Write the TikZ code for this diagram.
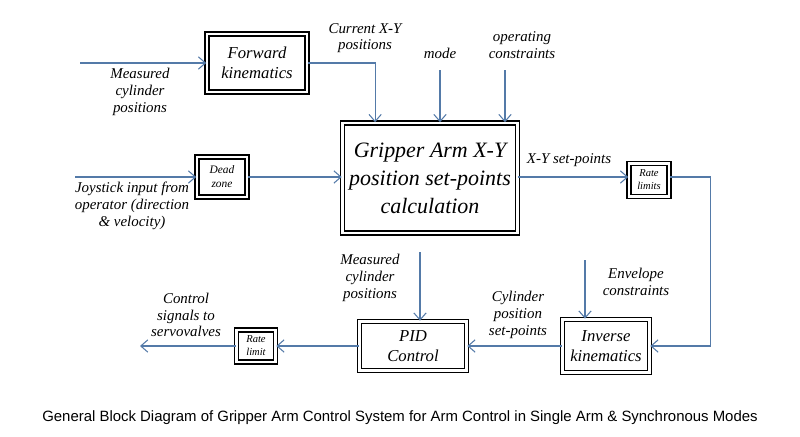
\documentclass[tikz,border=0pt]{standalone}
\usepackage{fontspec}
\setmainfont{Liberation Serif}
\newfontfamily\capfont{Liberation Sans}
\usetikzlibrary{arrows.meta}
\definecolor{linkblue}{RGB}{84,122,168}
\begin{document}
\begin{tikzpicture}[x=0.02cm, y=-0.02cm,
    block/.style={draw, line width=0.9pt, double=white, double distance=1.3pt, align=center, inner sep=1pt, font=\itshape},
    lbl/.style={align=center, inner sep=1pt, font=\itshape\fontsize{8.5}{9.5}\selectfont},
    flow/.style={draw=linkblue, -{Straight Barb[length=4pt,width=7pt]}, line width=0.6pt}]
  \useasboundingbox (0,0) rectangle (800,436);

  % blocks
  \node[block, minimum width=2.0cm, minimum height=1.16cm, font=\itshape\fontsize{9.5}{11.5}\selectfont] (fwd) at (257,63) {Forward\\kinematics};
  \node[block, minimum width=3.5cm, minimum height=2.2cm, font=\itshape\fontsize{12.5}{16}\selectfont] (calc) at (430,178) {Gripper Arm X-Y\\position set-points\\calculation};
  \node[block, minimum width=1.0cm, minimum height=0.8cm, font=\itshape\fontsize{6.5}{8}\selectfont] (dead) at (222,177) {Dead\\zone};
  \node[block, minimum width=0.8cm, minimum height=0.66cm, font=\itshape\fontsize{6}{7.5}\selectfont] (rates) at (649,180) {Rate\\limits};
  \node[block, minimum width=1.74cm, minimum height=1.06cm, font=\itshape\fontsize{9.5}{11.5}\selectfont] (inv) at (606,346) {Inverse\\kinematics};
  \node[block, minimum width=2.14cm, minimum height=0.98cm, font=\itshape\fontsize{9.5}{11.5}\selectfont] (pid) at (413,346) {PID\\Control};
  \node[block, minimum width=0.78cm, minimum height=0.64cm, font=\itshape\fontsize{6}{7.5}\selectfont] (rate) at (256,346) {Rate\\limit};

  % free ends
  \coordinate (measIn) at (80,63);
  \coordinate (modeIn) at (440,70);
  \coordinate (opIn) at (505,70);
  \coordinate (joyIn) at (75,177);
  \coordinate (envIn) at (585,260);
  \coordinate (measPid) at (420,252);
  \coordinate (out) at (140,346);

  % labels
  \node[lbl] (measL) at (140,92) {Measured\\cylinder\\positions};
  \node[lbl] (curL) at (365,38) {Current X-Y\\positions};
  \node[lbl] (modeL) at (440,53) {mode};
  \node[lbl] (opL) at (522,45) {operating\\constraints};
  \node[lbl] (joyL) at (132,206) {Joystick input from\\operator (direction\\\& velocity)};
  \node[lbl] (xyL) at (569,160) {X-Y set-points};
  \node[lbl] (envL) at (636,282) {Envelope\\constraints};
  \node[lbl] (cylL) at (518,315) {Cylinder\\position\\set-points};
  \node[lbl] (measL2) at (370,278) {Measured\\cylinder\\positions};
  \node[lbl] (ctlL) at (186,315) {Control\\signals to\\servovalves};

  % connectors
  \draw[flow] (measIn) -- (fwd);
  \draw[flow] (fwd.east) -| ([xshift=19]calc.north west);
  \draw[flow] (modeIn) -- (modeIn |- calc.north);
  \draw[flow] (opIn) -- (opIn |- calc.north);
  \draw[flow] (joyIn) -- (dead);
  \draw[flow] (dead) -- (dead -| calc.west);
  \draw[flow] (calc.east |- dead) -- (rates.west |- dead);
  \draw[flow] (rates.east |- dead) -- ++(41,0) |- (inv.east);
  \draw[flow] (envIn) -- (envIn |- inv.north);
  \draw[flow] (inv) -- (pid);
  \draw[flow] (measPid) -- (measPid |- pid.north);
  \draw[flow] (pid) -- (rate);
  \draw[flow] (rate) -- (out);

  \node[font=\capfont\fontsize{8.5}{10}\selectfont] (caption) at (400,418) {General Block Diagram of Gripper Arm Control System for Arm Control in Single Arm \& Synchronous Modes};
\end{tikzpicture}
\end{document}
